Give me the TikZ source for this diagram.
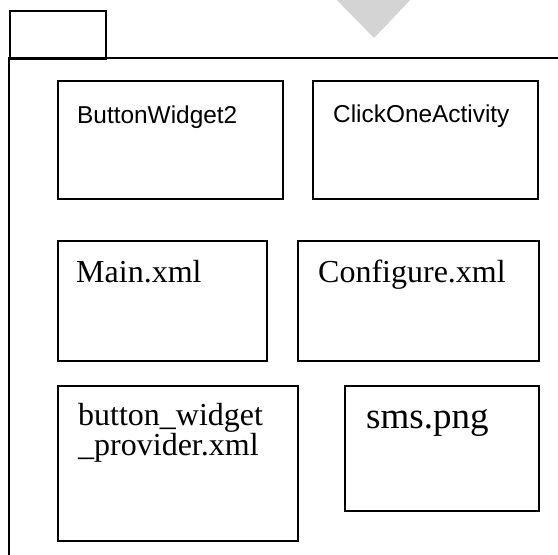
\documentclass[tikz,border=0pt]{standalone}
\usepackage{fontspec}
\setmainfont{Liberation Serif}
\setsansfont{Liberation Sans}
\usepackage{xcolor}
\usetikzlibrary{positioning,calc}
\definecolor{mk}{HTML}{D4D4D4}
\definecolor{ln}{HTML}{000000}
\tikzset{
  part/.style={draw=ln, line width=2pt, rectangle, anchor=north west, inner sep=0pt},
  sanslbl/.style={anchor=base west, inner sep=0pt, font=\sffamily\fontsize{24.4}{28}\selectfont},
  seriflbl/.style={anchor=base west, inner sep=0pt, font=\rmfamily\fontsize{32}{29}\selectfont},
}

\begin{document}
\begin{tikzpicture}[x=1pt,y=-1pt]
  \useasboundingbox (0,0) rectangle (558,555);
  % marker at the top
  \fill[mk] (332,-5) -- (415,-5) -- (374,38) -- cycle;
  % package frame
  \node[part, minimum width=96pt, minimum height=48pt] (tab) at (9,10) {};
  \coordinate (fr) at (560,58);
  \coordinate (fb) at (9,557);
  \draw[ln, line width=2pt] (fb) |- (fr);
  % contents
  \node[part, minimum width=225pt, minimum height=118pt] (bw) at (57,80) {};
  \node[part, minimum width=225pt, minimum height=118pt] (co) at (312,80) {};
  \node[part, minimum width=209pt, minimum height=120pt] (mx) at (57,240) {};
  \node[part, minimum width=241pt, minimum height=120pt] (cx) at (297,240) {};
  \node[part, minimum width=240pt, minimum height=155pt] (bp) at (57,385) {};
  \node[part, minimum width=194pt, minimum height=125pt] (sm) at (344,385) {};
  \node[sanslbl, xshift=20pt, yshift=-43pt] (bwt) at (bw.north west) {ButtonWidget2};
  \node[sanslbl, xshift=21pt, yshift=-42pt] (cot) at (co.north west) {ClickOneActivity};
  \node[seriflbl, xshift=19pt, yshift=-42pt] (mxt) at (mx.north west) {Main.xml};
  \node[seriflbl, xshift=21pt, yshift=-42pt] (cxt) at (cx.north west) {Configure.xml};
  \node[seriflbl, anchor=north west, align=left, xshift=21pt, yshift=-18pt] (bpt)
    at (bp.north west) {button\_widget\\\_provider.xml};
  \node[seriflbl, font=\rmfamily\fontsize{37}{40}\selectfont, xshift=22pt, yshift=-43pt] (smt)
    at (sm.north west) {sms.png};
\end{tikzpicture}
\end{document}
